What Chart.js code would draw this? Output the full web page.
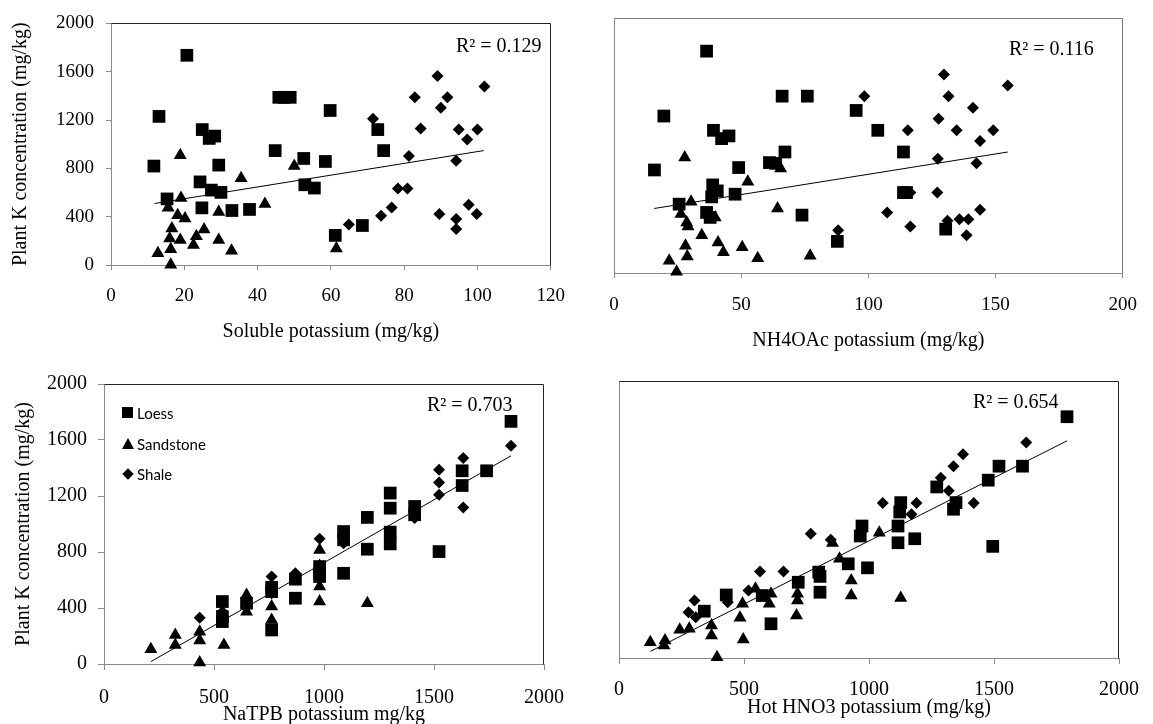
<!DOCTYPE html>
<html>
<head>
<meta charset="utf-8">
<script src="https://cdn.jsdelivr.net/npm/chart.js@4.4.1/dist/chart.umd.min.js"></script>
<style>
  html, body { margin: 0; padding: 0; background: #fff; }
  body { width: 1153px; height: 724px; position: relative; overflow: hidden; }
  canvas { position: absolute; }
  .r2 { position: absolute; font: 20px "Liberation Serif", "Times New Roman", serif; line-height: 20px; color: #000; white-space: nowrap; }
  .lg { position: absolute; font: 15px Lato, "Open Sans", sans-serif; line-height: 15px; color: #000; white-space: nowrap; }
  .mk { position: absolute; background: #000; }
</style>
</head>
<body>
<canvas id="c1" width="580" height="345" style="left:0;top:0"></canvas>
<canvas id="c2" width="573" height="356" style="left:580px;top:0"></canvas>
<canvas id="c3" width="580" height="385" style="left:0;top:345px"></canvas>
<canvas id="c4" width="573" height="379" style="left:580px;top:345px"></canvas>

<div class="r2" style="left:456px;top:35px">R² = 0.129</div>
<div class="r2" style="left:1009px;top:38px">R² = 0.116</div>
<div class="r2" style="left:427px;top:394px">R² = 0.703</div>
<div class="r2" style="left:973px;top:391px">R² = 0.654</div>

<div class="mk" style="left:122px;top:407px;width:11px;height:11px"></div>
<div class="lg" style="left:137px;top:406px">Loess</div>
<div class="mk" style="left:122px;top:438px;width:0;height:0;background:none;border-left:6px solid transparent;border-right:6px solid transparent;border-bottom:11px solid #000"></div>
<div class="lg" style="left:137px;top:437px">Sandstone</div>
<div class="mk" style="left:124px;top:470px;width:8px;height:8px;transform:rotate(45deg)"></div>
<div class="lg" style="left:137px;top:467px">Shale</div>

<script>
// Plant K concentration (mg/kg) against four soil K extractions, by parent material
const yTicks = [0, 400, 800, 1200, 1600, 2000];

// Soluble potassium (mg/kg)
const solLoess = [[20.7,1736],[13.1,1230],[11.7,819],[15.3,547],[24.9,1121],[26.8,1048],[28.3,1067],[24.3,688],
  [29.4,827],[27.4,620],[30.0,601],[24.8,473],[33.0,451],[37.8,460],[44.8,947],[45.8,1388],[47.3,1388],[48.9,1388],
  [52.6,882],[52.9,664],[55.5,637],[58.5,857],[59.8,1279],[61.2,245],[68.6,327],[72.8,1121],[74.4,947]];
const solSand = [[12.8,98],[16.3,2],[16.3,131],[16.0,220],[16.6,302],[15.6,473],[18.9,909],[19.1,555],[18.2,411],
  [20.2,384],[18.9,207],[22.5,166],[23.3,239],[25.4,294],[29.4,438],[29.4,207],[32.9,117],[35.5,718],[42.0,506],
  [50.0,819],[61.5,136]];
const solShale = [[64.9,335],[71.5,1211],[73.7,408],[76.6,476],[78.3,634],[80.9,634],[81.3,903],[82.9,1388],[84.5,1129],
  [89.1,1565],[89.6,422],[90.0,1301],[91.8,1388],[94.2,863],[94.9,1121],[94.2,381],[94.2,299],[97.2,1039],[97.6,498],
  [100.0,1121],[99.8,422],[101.9,1477]];
const solTrend = [[11.9,509],[101.7,947]];

// NH4OAc potassium (mg/kg)
const nhLoess = [[36.4,1740],[19.6,1231],[15.9,808],[66.1,1387],[76.0,1387],[95.2,1275],[103.7,1119],[39.1,1119],
  [42.3,1054],[45.2,1075],[49.0,827],[61.1,866],[63.5,860],[67.2,949],[113.8,949],[38.8,691],[40.6,644],[38.4,597],
  [47.6,618],[25.6,540],[36.4,475],[37.8,436],[73.9,454],[113.8,631],[115.0,631],[130.4,344],[87.8,248]];
const nhSand = [[27.8,905],[65.5,819],[52.6,715],[30.3,558],[26.3,462],[28.6,396],[29.1,365],[39.8,436],[64.3,506],
  [34.5,297],[28.1,214],[40.9,240],[28.8,130],[43.0,162],[50.4,201],[21.7,96],[24.6,10],[56.5,115],[77.1,136]];
const nhShale = [[98.4,1387],[129.7,1557],[154.8,1471],[131.5,1387],[141.1,1296],[127.6,1210],[115.5,1119],[134.7,1119],
  [149.1,1119],[143.9,1035],[127.3,897],[142.5,861],[127.1,631],[116.5,631],[107.4,475],[143.9,496],[135.8,422],
  [139.3,422],[131.1,409],[116.5,365],[138.6,297],[88.1,336]];
const nhTrend = [[15.8,506],[154.8,949]];

// NaTPB potassium mg/kg
const tpbLoess = [[1850,1733],[1739,1380],[1628,1380],[1628,1275],[1301,1221],[1301,1113],[1412,1125],[1412,1066],
  [1197,1047],[1089,946],[1089,887],[1301,942],[1301,858],[1197,820],[1523,803],[1089,648],[980,696],[980,648],
  [980,625],[870,606],[870,470],[762,548],[762,517],[762,243],[538,446],[538,339],[538,303],[648,434]];
const tpbSand = [[213,105],[324,207],[324,136],[435,231],[435,167],[435,10],[545,136],[648,493],[648,374],[762,410],
  [762,315],[980,815],[980,700],[980,553],[980,446],[1197,434],[648,430]];
const tpbShale = [[1850,1559],[1633,1471],[1633,1118],[1523,1387],[1523,1297],[1523,1209],[1412,1042],[1089,863],
  [980,894],[870,648],[762,625],[762,505],[648,422],[538,374],[435,331]];
const tpbTrend = [[213,17],[1850,1487]];

// Hot HNO3 potassium (mg/kg)
const hnoLoess = [[1792,1742],[1520,1385],[1614,1385],[1477,1284],[1271,1235],[1348,1122],[1338,1074],[1127,1122],
  [1123,1054],[1116,953],[1116,832],[972,953],[965,881],[1183,861],[1495,806],[917,680],[994,651],[799,620],
  [804,589],[804,475],[717,547],[608,247],[573,451],[429,455],[341,338]];
const hnoSand = [[1041,905],[854,830],[882,716],[929,560],[929,451],[1127,434],[714,463],[714,415],[710,307],
  [608,463],[601,391],[546,500],[494,391],[484,290],[497,134],[370,235],[370,162],[392,6],[243,204],[281,211],
  [125,114],[184,126],[180,90]];
const hnoShale = [[1629,1556],[1376,1472],[1338,1385],[1287,1301],[1319,1207],[1419,1120],[1190,1120],[1055,1120],
  [1170,1038],[767,898],[847,854],[658,625],[564,625],[518,487],[435,403],[302,415],[278,331],[307,295]];
const hnoTrend = [[126,48],[1792,1568]];

const SERIF = '"Liberation Serif", "Times New Roman", serif';
const AXIS_GREY = '#8a8a8a';

function toXY(rows) {
  return rows.map(r => ({ x: r[0], y: r[1] }));
}

// top and right edges of the plot box
const frame = {
  id: 'frame',
  afterDraw(chart, args, opts) {
    const { left, top, right, bottom } = chart.chartArea;
    const ctx = chart.ctx;
    ctx.save();
    ctx.strokeStyle = opts.color || '#222';
    ctx.lineWidth = 1;
    ctx.beginPath();
    ctx.moveTo(Math.round(left) + 0.5, Math.round(top) + 0.5);
    ctx.lineTo(Math.round(right) - 0.5, Math.round(top) + 0.5);
    ctx.lineTo(Math.round(right) - 0.5, Math.round(bottom) + 0.5);
    ctx.stroke();
    ctx.restore();
  }
};

function makePanel(id, p) {
  const pts = { backgroundColor: '#000', borderColor: '#000', borderWidth: 0, clip: false };
  return new Chart(document.getElementById(id), {
    type: 'scatter',
    data: {
      datasets: [
        Object.assign({ label: 'Loess', data: toXY(p.loess), pointStyle: 'rect', pointRadius: 9, pointHoverRadius: 9 }, pts),
        Object.assign({ label: 'Sandstone', data: toXY(p.sand), pointStyle: 'triangle', pointRadius: 7.5, pointHoverRadius: 7.5 }, pts),
        Object.assign({ label: 'Shale', data: toXY(p.shale), pointStyle: 'rectRot', pointRadius: 6, pointHoverRadius: 6 }, pts),
        { label: 'trend', data: toXY(p.trend), showLine: true, borderColor: '#000', borderWidth: 1, pointRadius: 0, clip: false }
      ]
    },
    options: {
      responsive: false,
      animation: false,
      devicePixelRatio: 1,
      layout: { padding: p.pad },
      plugins: { legend: { display: false }, tooltip: { enabled: false }, frame: { color: p.frameColor } },
      scales: {
        x: {
          type: 'linear', min: 0, max: p.xMax,
          ticks: { stepSize: p.xStep, color: '#000', font: { family: SERIF, size: p.tickSize }, padding: p.xTickPad, maxRotation: 0,
            callback: v => String(v) },
          grid: { drawOnChartArea: false, tickLength: p.tickLen, color: AXIS_GREY },
          border: { color: AXIS_GREY },
          title: { display: true, text: p.xTitle, color: '#000', font: { family: SERIF, size: 20 }, padding: { top: 0, bottom: p.xTitlePad } },
          afterFit(s) { s.height = p.xH; }
        },
        y: {
          type: 'linear', min: 0, max: 2000,
          afterBuildTicks(s) { s.ticks = yTicks.map(v => ({ value: v })); },
          ticks: { display: p.yLabels, color: '#000', font: { family: SERIF, size: p.tickSize }, padding: p.yTickPad,
            callback: v => String(v) },
          grid: { drawOnChartArea: false, drawTicks: p.yLabels, tickLength: p.tickLen, color: AXIS_GREY },
          border: { color: AXIS_GREY },
          title: { display: p.yLabels, text: 'Plant K concentration (mg/kg)', color: '#000', font: { family: SERIF, size: 20 }, padding: { top: p.yTitlePad, bottom: 0 } },
          afterFit(s) { s.width = p.yW; }
        }
      }
    },
    plugins: [frame]
  });
}

makePanel('c1', {
  loess: solLoess, sand: solSand, shale: solShale, trend: solTrend,
  xMax: 120, xStep: 20, xTitle: 'Soluble potassium (mg/kg)',
  pad: { left: 0, top: 20, right: 9, bottom: 0 }, yW: 111, xH: 80,
  tickSize: 19, tickLen: 5, xTickPad: 15, yTickPad: 12, xTitlePad: 1, yTitlePad: 9,
  yLabels: true, frameColor: '#222'
});
makePanel('c2', {
  loess: nhLoess, sand: nhSand, shale: nhShale, trend: nhTrend,
  xMax: 200, xStep: 50, xTitle: 'NH4OAc potassium (mg/kg)',
  pad: { left: 0, top: 18, right: 25, bottom: 0 }, yW: 34, xH: 83,
  tickSize: 19, tickLen: 5, xTickPad: 16, yTickPad: 12, xTitlePad: 3, yTitlePad: 0,
  yLabels: false, frameColor: '#777'
});
makePanel('c3', {
  loess: tpbLoess, sand: tpbSand, shale: tpbShale, trend: tpbTrend,
  xMax: 2000, xStep: 500, xTitle: 'NaTPB potassium mg/kg',
  pad: { left: 0, top: 39, right: 9, bottom: 0 }, yW: 104, xH: 66,
  tickSize: 20, tickLen: 6, xTickPad: 16, yTickPad: 11, xTitlePad: 3, yTitlePad: 12,
  yLabels: true, frameColor: '#222'
});
makePanel('c4', {
  loess: hnoLoess, sand: hnoSand, shale: hnoShale, trend: hnoTrend,
  xMax: 2000, xStep: 500, xTitle: 'Hot HNO3 potassium (mg/kg)',
  pad: { left: 0, top: 36, right: 24, bottom: 0 }, yW: 39, xH: 66,
  tickSize: 20, tickLen: 6, xTickPad: 14, yTickPad: 12, xTitlePad: 4, yTitlePad: 0,
  yLabels: false, frameColor: '#222'
});
</script>
</body>
</html>
